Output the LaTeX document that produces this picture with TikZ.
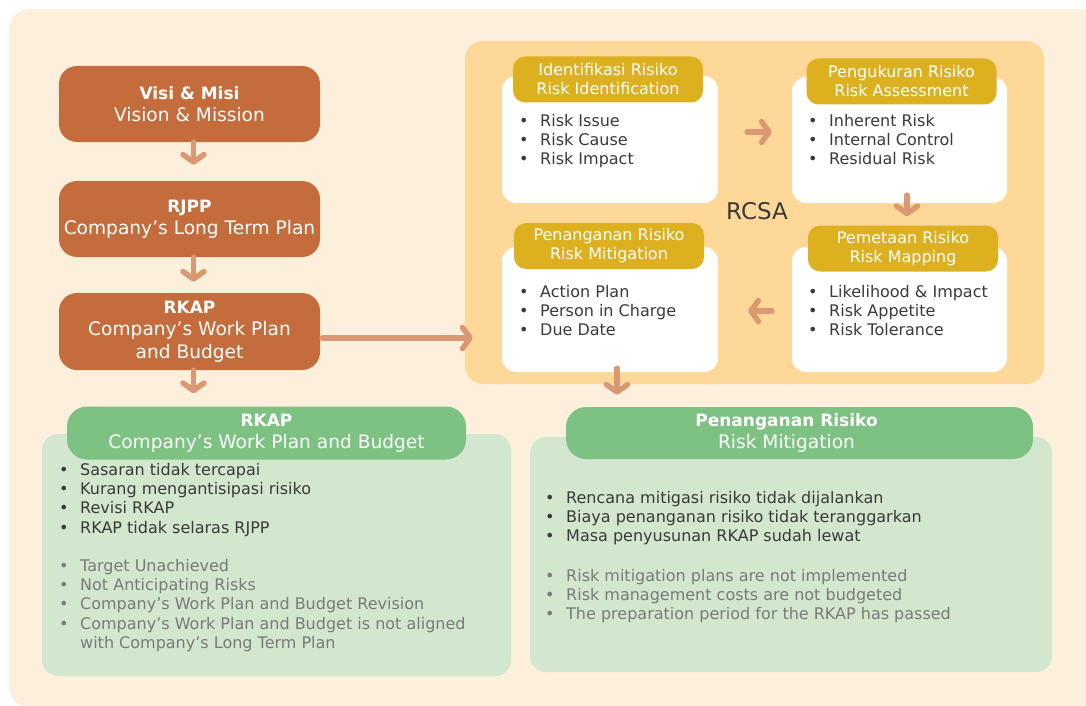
\documentclass[tikz,border=0pt]{standalone}
\usepackage{fontspec}
\setmainfont{DejaVu Sans}
\usetikzlibrary{positioning,calc,arrows.meta}
\definecolor{Cream}{RGB}{252,240,220}
\definecolor{Rust}{RGB}{196,108,60}
\definecolor{Clay}{RGB}{218,153,114}
\definecolor{Sand}{RGB}{253,216,152}
\definecolor{Mustard}{RGB}{221,176,32}
\definecolor{Leaf}{RGB}{125,193,131}
\definecolor{Mint}{RGB}{211,230,206}
\definecolor{Ink}{RGB}{58,58,58}
\definecolor{Ash}{RGB}{122,122,122}
\newcommand{\bul}{\makebox[18pt][l]{\hspace*{-3pt}\textbullet}}
\newcommand{\ttl}[1]{{\fontsize{17}{22.5}\selectfont\bfseries #1}}
\tikzset{
  plan/.style={fill=Rust,text=white,rounded corners=18pt,minimum width=261pt,minimum height=76pt,
    align=center,font=\fontsize{18.6}{22.5}\selectfont},
  card/.style={fill=white,rounded corners=14pt},
  tag/.style={fill=Mustard,text=white,rounded corners=12pt,minimum width=190pt,minimum height=46pt,
    align=center,font=\fontsize{16}{19}\selectfont},
  sheet/.style={fill=Mint,rounded corners=16pt},
  band/.style={fill=Leaf,text=white,rounded corners=20pt,align=center,font=\fontsize{18.6}{22.5}\selectfont},
  points/.style={anchor=north west,inner sep=0pt,align=left,text=Ink,font=\fontsize{16}{19.3}\selectfont},
}
\tikzset{flow/.style={draw=Clay,line width=5.5pt,line cap=round,-{Straight Barb[length=7.5pt,width=21pt,round]}}}

\begin{document}
\begin{tikzpicture}[x=1pt,y=-1pt]
\useasboundingbox (0,0) rectangle (1086,706);
\fill[white] (0,0) rectangle (1086,706);
\begin{scope}
\clip (0,0) rectangle (1086,706);
\fill[Cream,rounded corners=20pt] (9,9) rectangle (1110,707);
\end{scope}
% planning chain
\node[plan] (visi) at (189.5,104) {\ttl{Visi \& Misi}\\Vision \& Mission};
\node[plan] (rjpp) at (189.5,219) {\ttl{RJPP}\\Company’s Long Term Plan};
\node[plan,minimum height=77pt] (rkap) at (189.5,331.5) {\ttl{RKAP}\\Company’s Work Plan\\and Budget};
% RCSA cycle
\node[fill=Sand,rounded corners=18pt,minimum width=579pt,minimum height=343pt] (rcsa) at (754.5,212.5) {};
\node[text=Ink,font=\fontsize{23}{26}\selectfont] (rcsalab) at (757,211) {RCSA};
\node[card,minimum width=216pt,minimum height=127pt] (identbox) at (610,139.5) {};
\node[card,minimum width=215pt,minimum height=126pt] (assessbox) at (899.5,140) {};
\node[card,minimum width=216pt,minimum height=125pt] (mitibox) at (610,309.5) {};
\node[card,minimum width=215pt,minimum height=125pt] (mapbox) at (899.5,309.5) {};
\node[tag] (identtag) at (608,79.5) {Identifikasi Risiko\\Risk Identification};
\node[tag] (assesstag) at (901.5,81.5) {Pengukuran Risiko\\Risk Assessment};
\node[tag] (mititag) at (609,246) {Penanganan Risiko\\Risk Mitigation};
\node[tag] (maptag) at (903,248.5) {Pemetaan Risiko\\Risk Mapping};
\node[points] (identlist) at (522,114) {\bul Risk Issue\\\bul Risk Cause\\\bul Risk Impact};
\node[points] (assesslist) at (811,114) {\bul Inherent Risk\\\bul Internal Control\\\bul Residual Risk};
\node[points] (mitilist) at (522,285) {\bul Action Plan\\\bul Person in Charge\\\bul Due Date};
\node[points] (maplist) at (811,285) {\bul Likelihood \& Impact\\\bul Risk Appetite\\\bul Risk Tolerance};
% outcome panels
\node[sheet,minimum width=469pt,minimum height=242pt] (planpanel) at (276.5,555) {};
\node[band,minimum width=399pt,minimum height=53pt] (planhead) at (266.5,433) {\ttl{RKAP}\\Company’s Work Plan and Budget};
\node[points] (planid) at (62,463) {\bul Sasaran tidak tercapai\\\bul Kurang mengantisipasi risiko\\\bul Revisi RKAP\\\bul RKAP tidak selaras RJPP};
\node[points,text=Ash] (planen) at (62,559) {\bul Target Unachieved\\\bul Not Anticipating Risks\\\bul Company’s Work Plan and Budget Revision\\\bul Company’s Work Plan and Budget is not aligned\\\hspace*{18pt}with Company’s Long Term Plan};
\node[sheet,minimum width=522pt,minimum height=235pt] (mitpanel) at (791,554.5) {};
\node[band,minimum width=467pt,minimum height=52pt] (mithead) at (799.5,433) {\ttl{Penanganan Risiko}\hspace*{26pt}\\Risk Mitigation\hspace*{26pt}};
\node[points] (mitid) at (548,491) {\bul Rencana mitigasi risiko tidak dijalankan\\\bul Biaya penanganan risiko tidak teranggarkan\\\bul Masa penyusunan RKAP sudah lewat};
\node[points,text=Ash] (miten) at (548,569) {\bul Risk mitigation plans are not implemented\\\bul Risk management costs are not budgeted\\\bul The preparation period for the RKAP has passed};
% arrows
\draw[flow,shorten >=16pt] ([xshift=4pt]visi.south) -- ([xshift=4pt]rjpp.north);
\draw[flow,shorten >=11pt] ([xshift=4pt]rjpp.south) -- ([xshift=4pt]rkap.north);
\draw[flow,shorten >=13pt] ([xshift=4pt]rkap.south) -- ([xshift=4pt]rkap.south |- planhead.north);
\draw[flow,shorten <=2pt,shorten >=-8pt] ([yshift=-6.5pt]rkap.east) -- ([yshift=-6.5pt]rkap.east -| rcsa.west);
\draw[flow,shorten <=29pt,shorten >=20pt] ([yshift=7.5pt]identbox.east) -- ([yshift=7.5pt]identbox.east -| assessbox.west);
\draw[flow,shorten <=-8pt,shorten >=9pt] ([xshift=7.5pt]assessbox.south) -- ([xshift=7.5pt]assessbox.south |- maptag.north);
\draw[flow,shorten <=20pt,shorten >=30pt] ([yshift=-1.5pt]mapbox.west) -- ([yshift=-1.5pt]mapbox.west -| mitibox.east);
\draw[flow,shorten >=12pt] ([xshift=7pt,yshift=4pt]mitibox.south) -- ([xshift=7pt]mitibox.south |- mithead.north);
\end{tikzpicture}
\end{document}
